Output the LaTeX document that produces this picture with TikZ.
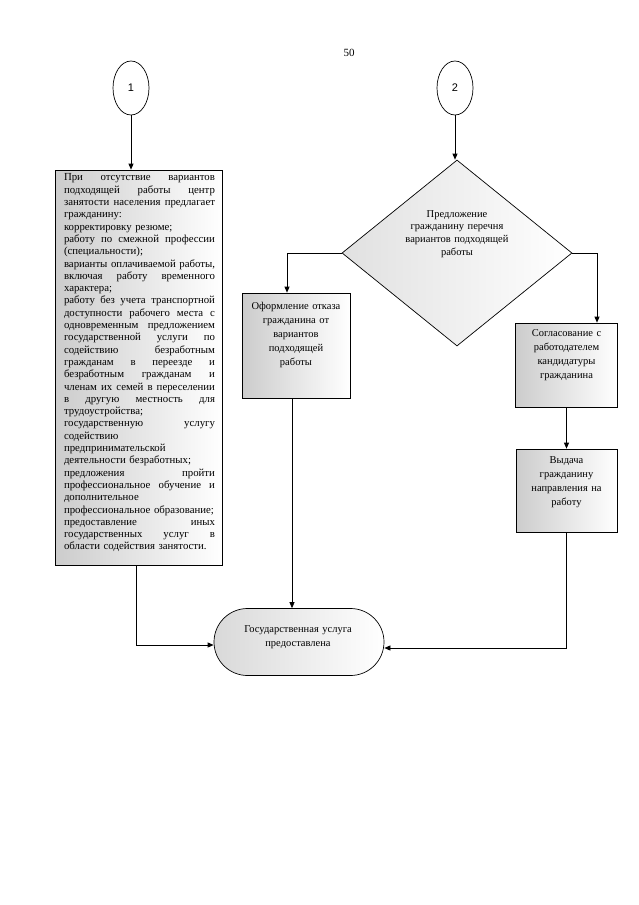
\documentclass[tikz,border=0pt]{standalone}
\usepackage{fontspec}
\setmainfont{Liberation Serif}
\newfontfamily\numfont{Liberation Sans}
\usetikzlibrary{shapes.geometric,shapes.misc,arrows.meta}
\newlength\bw
\setlength\bw{151pt}
\newcommand\jl[1]{{\spaceskip=0pt\xspaceskip=0pt\makebox[\bw][s]{#1}}}
\begin{document}
\begin{tikzpicture}[x=1pt,y=-1pt,
  line width=0.7pt,
  arr/.style={-{Triangle[length=6pt,width=5pt]}},
  shd/.style={left color=black!20,right color=white},
  box/.style={draw,shd,rectangle,inner sep=0pt},
  txt/.style={font=\fontsize{10.5}{14}\selectfont,align=center,inner sep=0pt},
  conn/.style={draw,ellipse,fill=white,minimum width=36pt,minimum height=54pt,inner sep=0pt,font=\numfont\fontsize{11}{13}\selectfont}
]
\useasboundingbox (0,0) rectangle (639,905);
\fill[white] (0,0) rectangle (639,905);

\node[font=\fontsize{11}{13}\selectfont] (pg) at (349,53) {50};

\node[conn] (c1) at (131,88) {1};
\node[conn] (c2) at (455,88) {2};

\node[box, minimum width=167pt, minimum height=395pt] (b1) at (138.5,367.5) {};
\node[anchor=north, text width=\bw, align=left, inner sep=0pt, font=\fontsize{10.8}{12.3}\selectfont] (t1) at (139.5,173.5) {%
\jl{При отсутствие вариантов}\\
\jl{подходящей работы центр}\\
\jl{занятости населения предлагает}\\
гражданину:\\
корректировку резюме;\\
\jl{работу по смежной профессии}\\
(специальности);\\
\jl{варианты оплачиваемой работы,}\\
\jl{включая работу временного}\\
характера;\\
\jl{работу без учета транспортной}\\
\jl{доступности рабочего места с}\\
\jl{одновременным предложением}\\
\jl{государственной услуги по}\\
\jl{содействию безработным}\\
\jl{гражданам в переезде и}\\
\jl{безработным гражданам и}\\
\jl{членам их семей в переселении}\\
\jl{в другую местность для}\\
трудоустройства;\\
\jl{государственную услугу}\\
содействию\\
предпринимательской\\
деятельности безработных;\\
\jl{предложения пройти}\\
\jl{профессиональное обучение и}\\
дополнительное\\
профессиональное образование;\\
\jl{предоставление иных}\\
\jl{государственных услуг в}\\
области содействия занятости.};

\node[diamond, draw, left color=black!12, right color=white, minimum width=230pt, minimum height=186pt, inner sep=0pt] (dia) at (457,253) {};
\node[txt, text width=120pt, font=\fontsize{10.5}{12.8}\selectfont] (dt) at (457,234) {Предложение\\ гражданину перечня\\ вариантов подходящей\\ работы};

\node[box, minimum width=108pt, minimum height=105pt] (ofr) at (296,345.5) {};
\node[txt, text width=104pt, anchor=north] (ofrt) at (296,301.5) {Оформление отказа\\ гражданина от\\ вариантов\\ подходящей\\ работы};

\node[box, minimum width=102pt, minimum height=84pt] (sog) at (566.5,365) {};
\node[txt, text width=100pt, anchor=north] (sogt) at (566.5,329.5) {Согласование с\\ работодателем\\ кандидатуры\\ гражданина};

\node[box, minimum width=101pt, minimum height=83pt] (vyd) at (566.5,490.5) {};
\node[txt, text width=100pt, anchor=north] (vydt) at (566.5,456) {Выдача\\ гражданину\\ направления на\\ работу};

\node[draw, rounded rectangle, left color=black!15, right color=white, minimum width=170pt, minimum height=67pt, inner sep=0pt] (st) at (299,642) {};
\node[txt, text width=150pt] (stt) at (298,637) {Государственная услуга\\ предоставлена};

\draw[arr] (c1.south) -- (c1.south |- b1.north);
\draw[arr] (c2.south) -- (c2.south |- dia.north);
\draw[arr] (dia.west) -| ([xshift=-9pt]ofr.north);
\draw[arr] (dia.east) -| ([xshift=30.5pt]sog.north);
\draw[arr] (sog.south) -- (vyd.north);
\draw[arr] ([xshift=-4pt]ofr.south) -- ([xshift=-4pt]ofr.south |- st.north);
\draw[arr] ([xshift=-2.5pt]b1.south) |- ([yshift=-3pt]st.west);
\draw[arr] (vyd.south) |- ([yshift=-6pt]st.east);
\end{tikzpicture}
\end{document}
